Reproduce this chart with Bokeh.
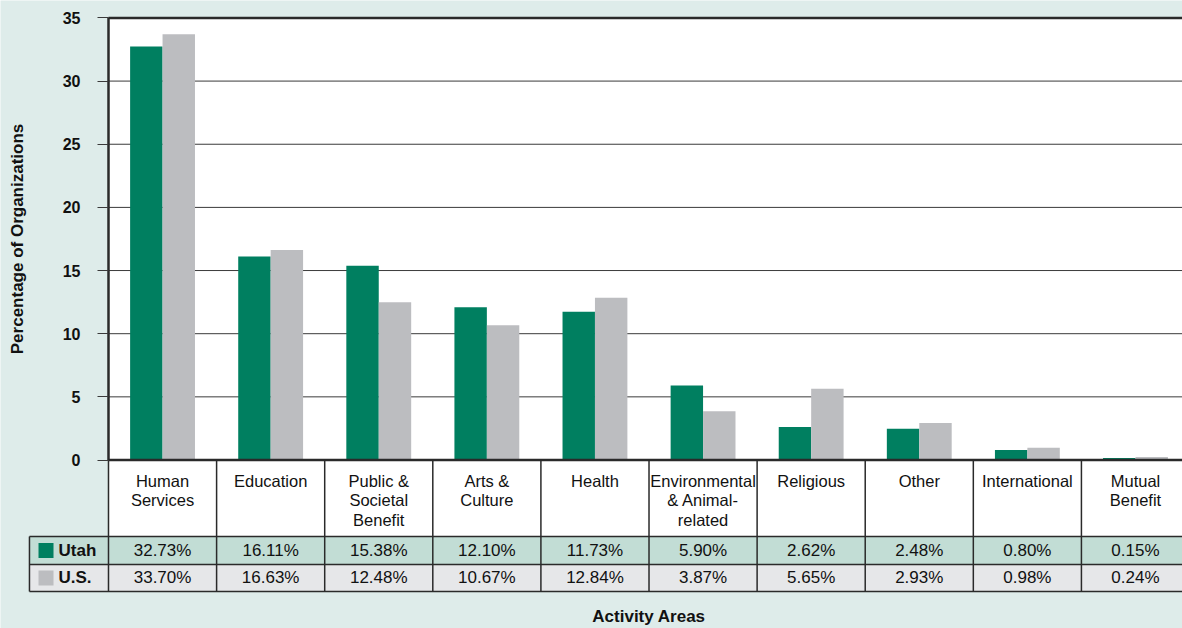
from bokeh.plotting import figure
from bokeh.models import Range1d, FixedTicker
from bokeh.core.properties import value
from bokeh.embed import file_html
from bokeh.resources import INLINE

# ---------------- data ----------------
categories = ["Human\nServices", "Education", "Public &\nSocietal\nBenefit", "Arts &\nCulture",
              "Health", "Environmental\n& Animal-\nrelated", "Religious", "Other",
              "International", "Mutual\nBenefit"]
utah = [32.73, 16.11, 15.38, 12.10, 11.73, 5.90, 2.62, 2.48, 0.80, 0.15]
us = [33.70, 16.63, 12.48, 10.67, 12.84, 3.87, 5.65, 2.93, 0.98, 0.24]
series_names = ["Utah", "U.S."]
y_ticks = [0, 5, 10, 15, 20, 25, 30, 35]
y_title = "Percentage of Organizations"
x_title = "Activity Areas"

# ---------------- style ----------------
FONT = "Liberation Sans"
BG = "#deecea"
GREEN = "#007f60"
GREY = "#bcbdc0"
ROW_UT = "#c2ddd5"
ROW_US = "#e6e7e9"
LINE = "#2a2a2a"

n = len(categories)
ymax = y_ticks[-1]
H_HEAD = -6.06
H_UT = -8.27
H_US = -10.41
LABEL_LEFT = -0.731

p = figure(width=1182, height=628,
           x_range=Range1d(-0.999, 9.935), y_range=Range1d(-13.34, 36.38),
           output_backend="svg", toolbar_location=None, min_border=0)
p.background_fill_color = BG
p.border_fill_color = BG
p.outline_line_color = None
p.xaxis.visible = False
p.xgrid.visible = False
p.ygrid.visible = False

# plot area + header row background
p.quad(left=[0], right=[n], bottom=[H_HEAD], top=[ymax], fill_color="white", line_color=None)

# gridlines
inner = [t for t in y_ticks if 0 < t < ymax]
p.segment(x0=[0] * len(inner), x1=[n] * len(inner), y0=inner, y1=inner,
          line_color="#3a3a3a", line_width=1)

# bars
xs_ut = [i + 0.35 for i in range(n)]
xs_us = [i + 0.65 for i in range(n)]
p.vbar(x=xs_ut, top=utah, bottom=0, width=0.3, fill_color=GREEN, line_color=None)
p.vbar(x=xs_us, top=us, bottom=0, width=0.3, fill_color=GREY, line_color=None)

# borders: top and zero line
p.segment(x0=[0], x1=[n], y0=[ymax], y1=[ymax], line_color=LINE, line_width=2.5)
p.segment(x0=[0], x1=[n], y0=[0], y1=[0], line_color=LINE, line_width=2.5)

# table rows
p.quad(left=[LABEL_LEFT], right=[n], bottom=[H_UT], top=[H_HEAD], fill_color=ROW_UT, line_color=None)
p.quad(left=[LABEL_LEFT], right=[n], bottom=[H_US], top=[H_UT], fill_color=ROW_US, line_color=None)

# table lines
vx = list(range(0, n + 1))
p.segment(x0=vx, x1=vx, y0=[0] * len(vx), y1=[H_US] * len(vx), line_color=LINE, line_width=1.5)
p.segment(x0=[LABEL_LEFT], x1=[LABEL_LEFT], y0=[H_HEAD], y1=[H_US], line_color=LINE, line_width=1.5)
hy = [H_HEAD, H_UT, H_US]
p.segment(x0=[LABEL_LEFT] * 3, x1=[n] * 3, y0=hy, y1=hy, line_color=LINE, line_width=1.5)

# header text
p.text(x=[i + 0.5 for i in range(n)], y=[-0.95] * n, text=categories,
       text_align="center", text_baseline="top", text_font=value(FONT),
       text_font_size="16.5px", text_color="#111111", text_line_height=1.075)

# value rows
y_ut = (H_HEAD + H_UT) / 2
y_us = (H_UT + H_US) / 2
p.text(x=[i + 0.5 for i in range(n)], y=[y_ut] * n, text=[f"{v:.2f}%" for v in utah],
       text_align="center", text_baseline="middle", text_font=value(FONT),
       text_font_size="17px", text_color="#111111")
p.text(x=[i + 0.5 for i in range(n)], y=[y_us] * n, text=[f"{v:.2f}%" for v in us],
       text_align="center", text_baseline="middle", text_font=value(FONT),
       text_font_size="17px", text_color="#111111")

# legend cells
p.scatter(x=[-0.578, -0.578], y=[y_ut, y_us], marker="square", size=15,
          fill_color=[GREEN, GREY], line_color=None)
p.text(x=[-0.4625, -0.4625], y=[y_ut, y_us], text=series_names,
       text_align="left", text_baseline="middle", text_font=value(FONT),
       text_font_size="17px", text_font_style="bold", text_color="#111111")

# x title
p.text(x=[n / 2], y=[-12.39], text=[x_title], text_align="center", text_baseline="middle",
       text_font=value(FONT), text_font_size="17px", text_font_style="bold", text_color="#111111")

# y axis
ax = p.yaxis[0]
ax.fixed_location = 0
ax.bounds = (0, ymax)
ax.ticker = FixedTicker(ticks=y_ticks)
ax.minor_tick_line_color = None
ax.major_tick_out = 11
ax.major_tick_in = 0
ax.major_tick_line_color = "#3a3a3a"
ax.major_tick_line_width = 1
ax.axis_line_color = LINE
ax.axis_line_width = 2.5
ax.major_label_standoff = 17
ax.major_label_text_font = FONT
ax.major_label_text_font_size = "16px"
ax.major_label_text_font_style = "bold"
ax.major_label_text_color = "#111111"
ax.axis_label = y_title
ax.axis_label_text_font = FONT
ax.axis_label_text_font_size = "17px"
ax.axis_label_text_font_style = "bold"
ax.axis_label_text_color = "#111111"
ax.axis_label_standoff = 33

open("out.html", "w").write(file_html(p, INLINE))
